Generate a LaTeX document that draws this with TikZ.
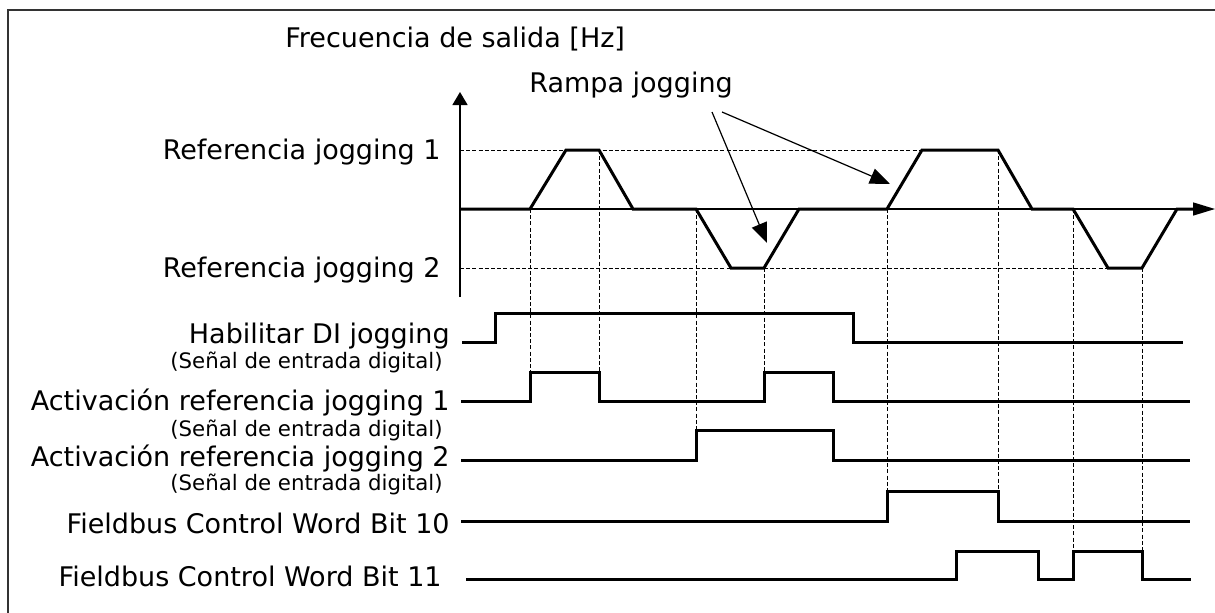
\documentclass[tikz,border=0pt]{standalone}
\usepackage{fontspec}
\setmainfont{DejaVu Sans}
\usetikzlibrary{arrows.meta}
\begin{document}
\begin{tikzpicture}[x=0.5pt,y=-0.5pt,
  big/.style={font=\fontsize{13.5}{16}\selectfont, inner sep=0pt, anchor=base east},
  small/.style={font=\fontsize{10.65}{12.5}\selectfont, inner sep=0pt, anchor=base east},
  wave/.style={line width=1.5pt, line join=miter},
  sig/.style={line width=1.5pt},
  guide/.style={line width=0.5pt, dash pattern=on 2pt off 1.1pt},
  axis/.style={line width=0.75pt},
  frame/.style={line width=0.8pt, draw=black!80},
  pointer/.style={line width=0.6pt, -{Triangle[length=10pt,width=8pt]}}]
\useasboundingbox (0,0) rectangle (1215,612);
% frame
\draw[frame] (8,614) -- (8,10) -- (1217,10);

% titles
\node[big, anchor=base west] (title) at (285,47) {Frecuencia de salida [Hz]};
\node[big, anchor=base west] (rampa) at (529,92) {Rampa jogging};

% level labels
\node[big] (ref1) at (441,159.7) {Referencia jogging 1};
\node[big] (ref2) at (441,277.7) {Referencia jogging 2};

% guides (dashed)
\draw[guide] (460,150) -- (922,150);
\draw[guide] (460,268) -- (1108,268);
\draw[guide] (530,209) -- (530,372);
\draw[guide] (599,150) -- (599,372);
\draw[guide] (696,209) -- (696,430);
\draw[guide] (764,268) -- (764,372);
\draw[guide] (887,209) -- (887,491);
\draw[guide] (998,150) -- (998,491);
\draw[guide] (1073,209) -- (1073,551);
\draw[guide] (1142,268) -- (1142,551);

% axes
\draw[axis, -{Triangle[length=6.5pt,width=7.5pt]}] (460,297) -- (460,92);
\draw[axis, -{Triangle[length=11pt,width=6.5pt]}] (460,209) -- (1215,209);

% waveform
\draw[wave] (460,209) -- (530,209) -- (566,150) -- (599,150) -- (633,209)
  -- (696,209) -- (731,268) -- (764,268) -- (799,209) -- (887,209)
  -- (922,150) -- (998,150) -- (1032,209) -- (1073,209) -- (1108,268)
  -- (1142,268) -- (1177,209) -- (1195,209);

% pointers
\coordinate (p1) at (712,112);
\coordinate (p2) at (722,112);
\coordinate (t1) at (767,243);
\coordinate (t2) at (890,184);
\draw[pointer] (p1) -- (t1);
\draw[pointer] (p2) -- (t2);

% signal labels
\node[big] (hab) at (450,343) {Habilitar DI jogging};
\node[small] (s1) at (443,368) {(Señal de entrada digital)};
\node[big] (act1) at (450,410.7) {Activación referencia jogging 1};
\node[small] (s2) at (443,436) {(Señal de entrada digital)};
\node[big] (act2) at (450,466) {Activación referencia jogging 2};
\node[small] (s3) at (443,490) {(Señal de entrada digital)};
\node[big] (fb10) at (450,533) {Fieldbus Control Word Bit 10};
\node[big] (fb11) at (442,586) {Fieldbus Control Word Bit 11};

% signals
\draw[sig] (462,342) -- (495,342) -- (495,313) -- (853,313) -- (853,342) -- (1183,342);
\draw[sig] (461,401) -- (530,401) -- (530,372) -- (599,372) -- (599,401) -- (764,401)
  -- (764,372) -- (833,372) -- (833,401) -- (1190,401);
\draw[sig] (461,460) -- (696,460) -- (696,430) -- (833,430) -- (833,460) -- (1190,460);
\draw[sig] (461,521) -- (887,521) -- (887,491) -- (998,491) -- (998,521) -- (1190,521);
\draw[sig] (466,579) -- (956,579) -- (956,551) -- (1038,551) -- (1038,579) -- (1073,579)
  -- (1073,551) -- (1142,551) -- (1142,579) -- (1191,579);
\end{tikzpicture}
\end{document}
